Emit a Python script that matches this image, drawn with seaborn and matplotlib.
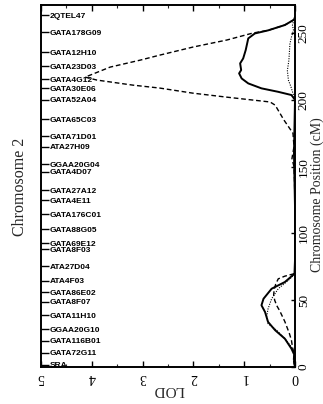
import matplotlib
matplotlib.use("Agg")
import matplotlib.pyplot as plt
import seaborn as sns
import numpy as np
import pandas as pd
from matplotlib.ticker import MultipleLocator

# ---------------- data ----------------
markers = ["2QTEL47", "GATA178G09", "GATA12H10", "GATA23D03", "GATA4G12", "GATA30E06",
           "GATA52A04", "GATA65C03", "GATA71D01", "ATA27H09", "GGAA20G04", "GATA4D07",
           "GATA27A12", "GATA4E11", "GATA176C01", "GATA88G05", "GATA69E12", "GATA8F03",
           "ATA27D04", "ATA4F03", "GATA86E02", "GATA8F07", "GATA11H10", "GGAA20G10",
           "GATA116B01", "GATA72G11", "SRA"]
marker_cm = [263.5, 250.7, 235.8, 225.3, 215.6, 208.8, 199.9, 185.6, 172.9, 164.7,
             151.9, 146.0, 132.5, 125.0, 114.5, 103.3, 92.8, 88.3, 75.6, 64.4,
             56.1, 48.7, 38.9, 28.4, 19.5, 10.5, 1.5]

solid_cm = [0, 4, 8.8, 13.7, 21.2, 27.5, 33.7, 41.2, 46.2, 51.1, 58.6, 63.6, 69.8,
            80, 100, 120, 140, 160, 180, 200, 203.6, 206, 208.6, 212.3, 216, 219.8,
            222.3, 227.3, 231, 237.3, 246, 249.7, 252, 256, 260, 262]
solid_lod = [0, 0.02, 0.01, 0.07, 0.2, 0.39, 0.53, 0.59, 0.66, 0.62, 0.46, 0.2, 0.01,
             0, 0, 0, 0.01, 0.02, 0.01, 0, 0.07, 0.33, 0.66, 0.92, 1.05, 1.1,
             1.06, 1.08, 1.02, 0.97, 0.92, 0.79, 0.53, 0.2, 0.02, 0]

dashed_cm = [0, 5, 10, 15, 20, 25, 30, 34, 38, 42, 46, 50, 54, 58, 62, 66, 68, 70,
             90, 120, 140, 150, 156, 165, 175, 185, 196, 198.4, 202, 205, 208.8, 211,
             214.8, 217, 224.5, 229.7, 233.5, 239.5, 244.8, 250, 252, 256, 260, 262]
dashed_lod = [0, 0.03, 0.02, 0.05, 0.07, 0.11, 0.16, 0.2, 0.25, 0.3, 0.36, 0.4, 0.42,
              0.41, 0.38, 0.33, 0.2, 0, 0, 0, 0.01, 0.02, 0.06, 0.02, 0.04, 0.22,
              0.39, 0.49, 1.34, 2.01, 2.66, 3.19, 3.9, 4.13, 3.64, 3.05, 2.66, 2.01,
              1.34, 0.83, 0.53, 0.2, 0.02, 0]

dotted_cm = [0, 5, 10, 15, 21.2, 27.5, 32.4, 37.4, 43.6, 51.1, 58.6, 64.9, 68.6, 70,
             100, 150, 200, 203.6, 209.8, 214.8, 222, 229.7, 242, 247, 252, 256, 260, 262]
dotted_lod = [0, 0.02, 0.01, 0.07, 0.2, 0.36, 0.53, 0.56, 0.53, 0.46, 0.33, 0.13, 0.03, 0,
              0, 0, 0, 0.03, 0.08, 0.13, 0.15, 0.12, 0.1, 0.07, 0.03, 0.05, 0.02, 0]

lod_ticks = [0, 1, 2, 3, 4, 5]
cm_ticks = [0, 50, 100, 150, 200, 250]

# ---------------- style ----------------
sns.set_theme(style="ticks")
plt.rcParams["font.family"] = ["Liberation Serif", "DejaVu Serif"]

fig = plt.figure(figsize=(3.23, 4.04), dpi=100)
ax = fig.add_axes([41 / 323, 37 / 404, 254 / 323, 362 / 404])

sns.lineplot(x=solid_lod, y=solid_cm, sort=False, estimator=None, ax=ax,
             color="black", lw=1.4)
sns.lineplot(x=dashed_lod, y=dashed_cm, sort=False, estimator=None, ax=ax,
             color="black", lw=1.0, linestyle=(0, (3.4, 2.0)))
sns.lineplot(x=dotted_lod, y=dotted_cm, sort=False, estimator=None, ax=ax,
             color="black", lw=0.8, linestyle=(0, (1, 1.2)))

ax.set_xlim(5, 0)
ax.set_ylim(0, 271)

# LOD axis
ax.set_xticks(lod_ticks)
ax.set_xticklabels([str(v) for v in lod_ticks], fontsize=10, rotation=180)
ax.xaxis.set_minor_locator(MultipleLocator(0.5))
ax.tick_params(axis="x", which="major", direction="in", length=4, width=1,
               top=True, bottom=True, pad=3, colors="black")
ax.tick_params(axis="x", which="minor", direction="in", length=2, width=0.8,
               top=True, bottom=True)

# marker ticks on the left, labels inside
ax.set_yticks(marker_cm)
ax.set_yticklabels(markers, fontsize=6, fontweight="bold", ha="left",
                   family=["Liberation Sans", "DejaVu Sans"])
ax.tick_params(axis="y", which="major", direction="in", length=6, width=1,
               pad=-6.5, left=True, right=False, colors="black")
ax.set_xlabel("")
ax.set_ylabel("")

for s in ax.spines.values():
    s.set_linewidth(1.2)
    s.set_color("black")

# right position axis
ax2 = ax.twinx()
ax2.set_ylim(0, 271)
ax2.set_yticks(cm_ticks)
ax2.set_yticklabels([str(v) for v in cm_ticks], fontsize=9.5, rotation=90,
                    va="center")
ax2.tick_params(axis="y", direction="in", length=3, width=1, pad=2,
                right=True, left=False, colors="black")
for s in ax2.spines.values():
    s.set_linewidth(1.2)
    s.set_color("black")

fig.text(20 / 323, 1 - 187 / 404, "Chromosome 2", rotation=90, ha="center",
         va="center", fontsize=11.5)
fig.text(317 / 323, 1 - 195 / 404, "Chromosome Position (cM)", rotation=90,
         ha="center", va="center", fontsize=10)
fig.text(169 / 323, 1 - 390 / 404, "LOD", rotation=180, ha="center",
         va="center", fontsize=11)

fig.savefig("out.png", dpi=100)
